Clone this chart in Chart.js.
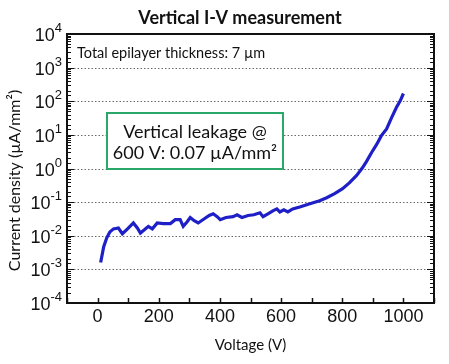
<!DOCTYPE html>
<html>
<head>
<meta charset="utf-8">
<script src="https://cdn.jsdelivr.net/npm/chart.js@4"></script>
<style>
  html, body { margin: 0; padding: 0; background: #fff; }
  #wrap { width: 449px; height: 364px; }
</style>
</head>
<body>
<div id="wrap"><canvas id="iv" width="449" height="364"></canvas></div>
<script>
"use strict";

// Vertical I-V sweep (log-scale current density).
const voltage = [10, 20, 30, 40, 52, 68, 81, 98, 117, 130, 140, 153, 166, 179, 195, 215, 238, 254, 270, 280,
  293, 303, 316, 329, 349, 365, 378, 391, 401, 420, 443, 456, 472, 492, 511, 531, 541, 557, 573, 586,
  596, 609, 622, 638, 661, 694, 726, 749, 775, 801, 824, 847, 866, 879, 896, 912, 928, 945, 961, 977, 990, 1000];
const density = [0.0016, 0.0047, 0.0087, 0.013, 0.016, 0.017, 0.0115, 0.016, 0.024, 0.017, 0.012, 0.015, 0.019, 0.016, 0.024, 0.023, 0.023, 0.030, 0.030, 0.019,
  0.026, 0.035, 0.028, 0.024, 0.032, 0.040, 0.045, 0.037, 0.030, 0.035, 0.037, 0.042, 0.035, 0.040, 0.042, 0.048, 0.037, 0.045, 0.055, 0.063,
  0.051, 0.059, 0.051, 0.063, 0.072, 0.089, 0.11, 0.135, 0.18, 0.25, 0.38, 0.62, 1.05, 1.6, 3.0, 5.1, 9.5, 15, 32, 65, 105, 170];

const xLabels = [0, 200, 400, 600, 800, 1000];
const decades = [-4, -3, -2, -1, 0, 1, 2, 3, 4];

const TEXT_FONT = "Lato, 'Open Sans', sans-serif";
const NUM_FONT = "'Liberation Sans', Arial, sans-serif";

// title, frame, dotted decade grid, inward ticks, superscript y labels, text notes
const decor = {
  id: "decor",
  beforeDatasetsDraw(chart) {
    const { ctx, chartArea: a, scales: { y } } = chart;
    ctx.save();
    ctx.strokeStyle = "#6a6a6a";
    ctx.lineWidth = 1;
    ctx.setLineDash([1.5, 2]);
    for (const d of decades.slice(1, -1)) {
      const py = Math.round(y.getPixelForValue(Math.pow(10, d))) + 0.5;
      ctx.beginPath();
      ctx.moveTo(a.left, py);
      ctx.lineTo(a.right, py);
      ctx.stroke();
    }
    ctx.restore();
  },
  afterDraw(chart) {
    const { ctx, chartArea: a, scales: { x, y } } = chart;
    ctx.save();
    ctx.strokeStyle = "#111";
    ctx.lineWidth = 1;
    // y ticks, inward on both sides
    for (const t of y.ticks) {
      const py = Math.round(y.getPixelForValue(t.value)) + 0.5;
      const len = t.major ? 7 : 4;
      ctx.beginPath();
      ctx.moveTo(a.left, py); ctx.lineTo(a.left + len, py);
      ctx.moveTo(a.right, py); ctx.lineTo(a.right - len, py);
      ctx.stroke();
    }
    // x ticks, inward from bottom
    ctx.lineWidth = 1.5;
    for (const t of x.ticks) {
      const px = Math.round(x.getPixelForValue(t.value)) + 0.5;
      ctx.beginPath();
      ctx.moveTo(px, a.bottom); ctx.lineTo(px, a.bottom - 5);
      ctx.stroke();
    }
    // frame
    ctx.lineWidth = 2;
    ctx.strokeRect(a.left, a.top, a.right - a.left, a.bottom - a.top);

    // title
    ctx.fillStyle = "#111";
    ctx.font = "bold 18px " + TEXT_FONT;
    ctx.textAlign = "center";
    ctx.textBaseline = "middle";
    ctx.fillText("Vertical I-V measurement", 240, 18);

    // y labels 10^n
    ctx.textBaseline = "alphabetic";
    for (const d of decades) {
      const py = y.getPixelForValue(Math.pow(10, d));
      const exp = String(d);
      ctx.font = "13px " + NUM_FONT;
      const ew = ctx.measureText(exp).width;
      ctx.textAlign = "left";
      const right = a.left - 5;
      ctx.fillText(exp, right - ew, py - 2);
      ctx.font = "18px " + NUM_FONT;
      ctx.textAlign = "right";
      ctx.fillText("10", right - ew, py + 7);
    }

    // notes
    ctx.font = "14.5px " + TEXT_FONT;
    ctx.textAlign = "left";
    ctx.textBaseline = "middle";
    ctx.fillText("Total epilayer thickness: 7 \u00b5m", 77, 53);

    ctx.strokeStyle = "#2aa86a";
    ctx.lineWidth = 2;
    ctx.fillStyle = "#fff";
    ctx.fillRect(107, 113, 176, 56);
    ctx.strokeRect(107, 113, 176, 56);
    ctx.fillStyle = "#111";
    ctx.font = "18px " + TEXT_FONT;
    ctx.textAlign = "center";
    ctx.fillText("Vertical leakage @", 195, 132);
    ctx.fillText("600 V: 0.07 \u00b5A/mm\u00b2", 195, 153);
    ctx.restore();
  }
};

new Chart(document.getElementById("iv"), {
  type: "line",
  data: {
    datasets: [{
      data: voltage.map((v, i) => ({ x: v, y: density[i] })),
      borderColor: "#1f1fc8",
      borderWidth: 3.2,
      pointRadius: 0,
      tension: 0,
      fill: false
    }]
  },
  options: {
    responsive: false,
    animation: false,
    layout: { padding: { left: 0, right: 15, top: 34, bottom: 0 } },
    plugins: {
      legend: { display: false },
      tooltip: { enabled: false },
      title: { display: false }
    },
    scales: {
      x: {
        type: "linear",
        min: -100,
        max: 1100,
        grid: { display: false, drawTicks: false },
        border: { display: false },
        ticks: {
          stepSize: 100,
          autoSkip: false,
          maxRotation: 0,
          padding: 3,
          color: "#111",
          font: { family: NUM_FONT, size: 18 },
          callback: (v) => (xLabels.includes(v) ? String(v) : "")
        },
        title: {
          display: true,
          text: "Voltage (V)",
          color: "#111",
          font: { family: TEXT_FONT, size: 15 },
          padding: { top: 0, bottom: 10 }
        },
        afterFit: (s) => { s.height = 61; }
      },
      y: {
        type: "logarithmic",
        min: 1e-4,
        max: 1e4,
        grid: { display: false, drawTicks: false },
        border: { display: false },
        ticks: { display: false },
        title: {
          display: true,
          text: "Current density (\u00b5A/mm\u00b2)\u2002\u2002\u2002",
          color: "#111",
          font: { family: TEXT_FONT, size: 16 },
          padding: { top: 5, bottom: 0 }
        },
        afterFit: (s) => { s.width = 67; }
      }
    }
  },
  plugins: [decor]
});
</script>
</body>
</html>
